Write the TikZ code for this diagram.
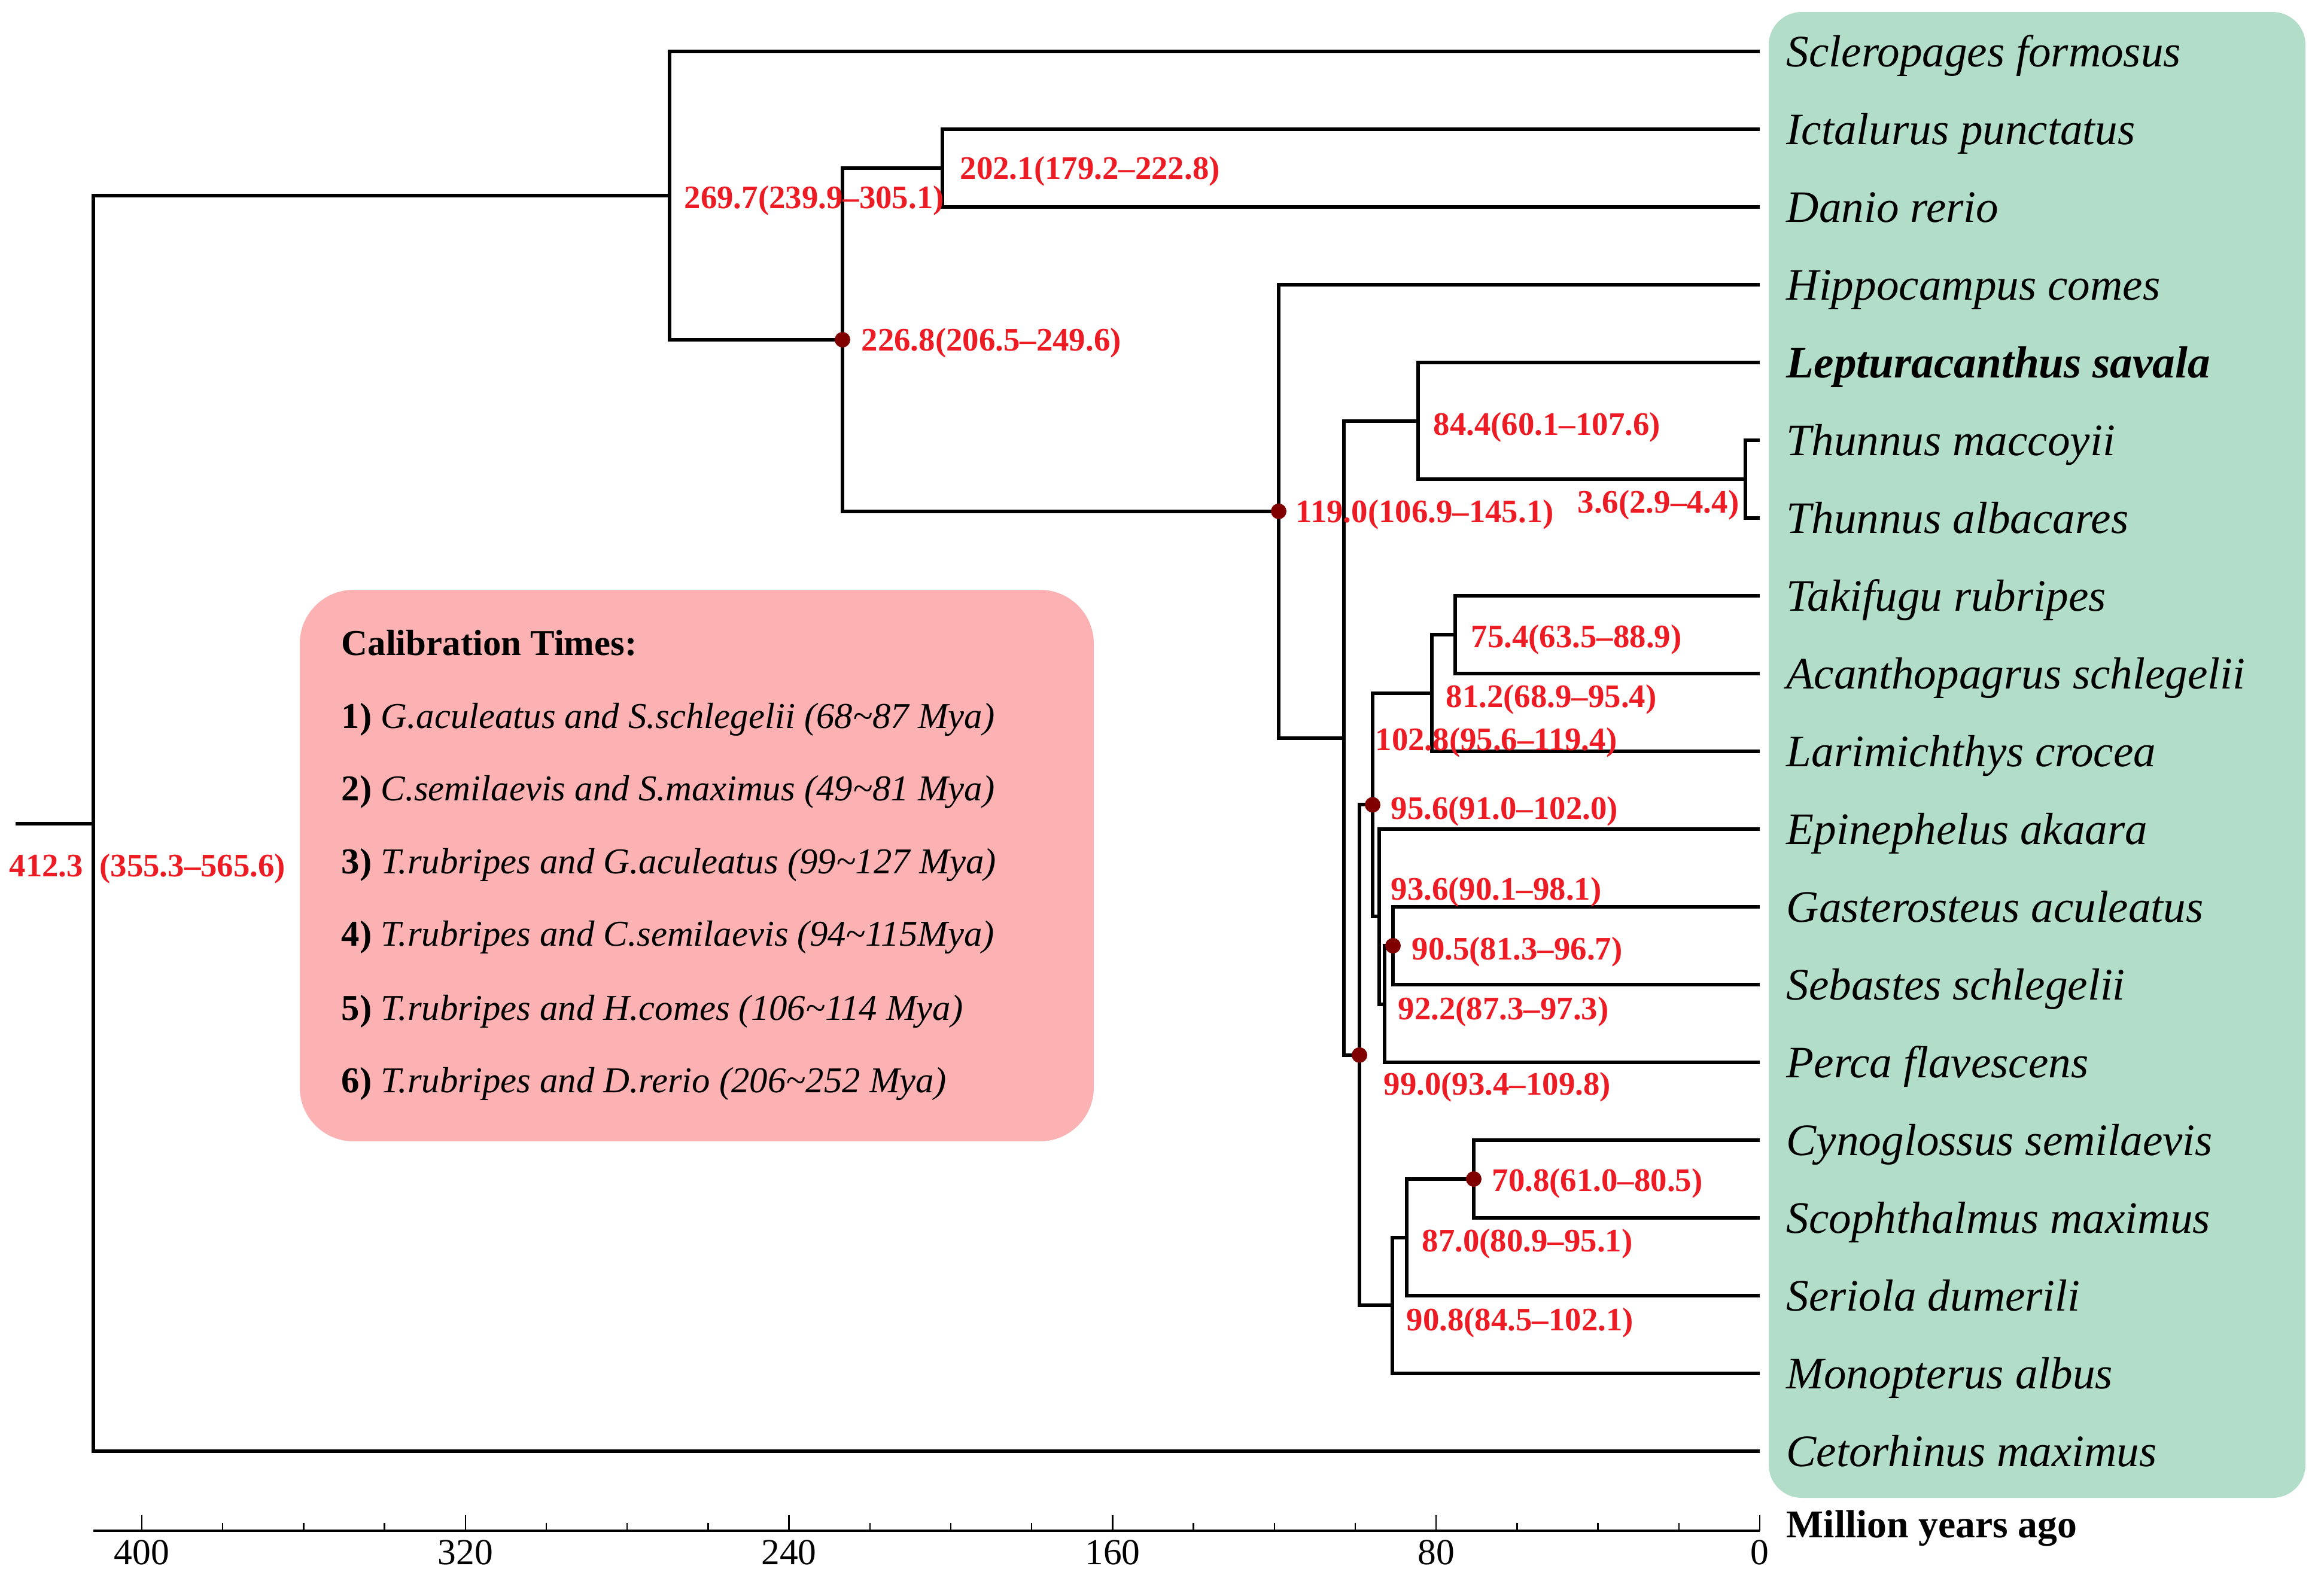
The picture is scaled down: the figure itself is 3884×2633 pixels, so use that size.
\documentclass[tikz,border=0pt]{standalone}
\usepackage{fontspec}
\setmainfont{Liberation Serif}
\usepackage{tikz}

\definecolor{agered}{RGB}{237,28,36}
\definecolor{calired}{RGB}{128,0,0}
\definecolor{taxongreen}{RGB}{178,222,201}
\definecolor{calipink}{RGB}{252,177,178}

\tikzset{
  branch/.style={line width=0.6mm},
  age/.style={text=agered, font=\bfseries\fontsize{15.6}{17}\selectfont, inner sep=0pt, anchor=base west},
  taxon/.style={font=\itshape\fontsize{21.4}{24}\selectfont, inner sep=0pt, anchor=base west},
  calnode/.style={circle, fill=calired, inner sep=0pt, minimum size=2.6mm},
  caltext/.style={font=\fontsize{17.3}{20}\selectfont, inner sep=0pt, anchor=base west},
  ticklabel/.style={font=\fontsize{17.5}{20}\selectfont, inner sep=0pt, anchor=base},
}

\begin{document}
\begin{tikzpicture}[x=0.1mm, y=-0.1mm]
	\useasboundingbox (0,0) rectangle (3884,2633);
	% panels behind the tree
	\fill[taxongreen, rounded corners=5.5mm] (2956,20) rectangle (3853,2504);
	\fill[calipink, rounded corners=9mm] (501,986) rectangle (1828,1908);

	% leaves
	\foreach \i in {0,...,18}
		\coordinate (l\i) at (2941,{86+130*\i});

	% internal nodes
	\coordinate (stem) at (26,1376.5);
	\coordinate (n4123) at (156,1376.5);
	\coordinate (n2697) at (1119,327);
	\coordinate (n2268) at (1408,567.9);
	\coordinate (n2021) at (1575,281);
	\coordinate (n1190) at (2137,854.8);
	\coordinate (n1028) at (2246,1233.6);
	\coordinate (n0844) at (2370,703.5);
	\coordinate (n0036) at (2917,801);
	\coordinate (n0990) at (2272,1763.8);
	\coordinate (n0956) at (2294,1345.4);
	\coordinate (n0812) at (2393,1158.5);
	\coordinate (n0754) at (2432,1061);
	\coordinate (n0936) at (2305,1532.3);
	\coordinate (n0922) at (2314,1678.5);
	\coordinate (n0905) at (2328,1581);
	\coordinate (n0908) at (2327,2182.3);
	\coordinate (n0870) at (2351,2068.5);
	\coordinate (n0708) at (2463,1971);

	% branches
	\draw[branch] (stem) -- (n4123);
	\draw[branch] (n4123) |- (n2697) (n4123) |- (l18);
	\draw[branch] (n2697) |- (l0) (n2697) |- (n2268);
	\draw[branch] (n2268) |- (n2021) (n2268) |- (n1190);
	\draw[branch] (n2021) |- (l1) (n2021) |- (l2);
	\draw[branch] (n1190) |- (l3) (n1190) |- (n1028);
	\draw[branch] (n1028) |- (n0844) (n1028) |- (n0990);
	\draw[branch] (n0844) |- (l4) (n0844) |- (n0036);
	\draw[branch] (n0036) |- (l5) (n0036) |- (l6);
	\draw[branch] (n0990) |- (n0956) (n0990) |- (n0908);
	\draw[branch] (n0956) |- (n0812) (n0956) |- (n0936);
	\draw[branch] (n0812) |- (n0754) (n0812) |- (l9);
	\draw[branch] (n0754) |- (l7) (n0754) |- (l8);
	\draw[branch] (n0936) |- (l10) (n0936) |- (n0922);
	\draw[branch] (n0922) |- (n0905) (n0922) |- (l13);
	\draw[branch] (n0905) |- (l11) (n0905) |- (l12);
	\draw[branch] (n0908) |- (n0870) (n0908) |- (l17);
	\draw[branch] (n0870) |- (n0708) (n0870) |- (l16);
	\draw[branch] (n0708) |- (l14) (n0708) |- (l15);

	% calibrated nodes
	\foreach \c in {n2268,n1190,n0956,n0990,n0905,n0708}
		\node[calnode] (d\c) at (\c) {};

	% node ages
	\node[age] (a4123) at (15,1465) {412.3\hspace{0.5em}(355.3--565.6)};
	\node[age] (a2697) at (1143,348) {269.7(239.9--305.1)};
	\node[age] (a2021) at (1604,299) {202.1(179.2--222.8)};
	\node[age] (a2268) at (1439,586) {226.8(206.5--249.6)};
	\node[age] (a0844) at (2395,727) {84.4(60.1--107.6)};
	\node[age] (a0036) at (2636,857) {3.6(2.9--4.4)};
	\node[age] (a1190) at (2165,873) {119.0(106.9--145.1)};
	\node[age] (a0754) at (2458,1082) {75.4(63.5--88.9)};
	\node[age] (a0812) at (2416,1182) {81.2(68.9--95.4)};
	\node[age] (a1028) at (2298,1254) {102.8(95.6--119.4)};
	\node[age] (a0956) at (2324,1369) {95.6(91.0--102.0)};
	\node[age] (a0936) at (2324,1504) {93.6(90.1--98.1)};
	\node[age] (a0905) at (2359,1604) {90.5(81.3--96.7)};
	\node[age] (a0922) at (2336,1704) {92.2(87.3--97.3)};
	\node[age] (a0990) at (2312,1830) {99.0(93.4--109.8)};
	\node[age] (a0708) at (2493,1991) {70.8(61.0--80.5)};
	\node[age] (a0870) at (2376,2092) {87.0(80.9--95.1)};
	\node[age] (a0908) at (2350,2224) {90.8(84.5--102.1)};

	% species
	\foreach \i/\sp in {0/Scleropages formosus, 1/Ictalurus punctatus, 2/Danio rerio,
		3/Hippocampus comes, 4/{\bfseries Lepturacanthus savala}, 5/Thunnus maccoyii,
		6/Thunnus albacares, 7/Takifugu rubripes, 8/Acanthopagrus schlegelii,
		9/Larimichthys crocea, 10/Epinephelus akaara, 11/Gasterosteus aculeatus,
		12/Sebastes schlegelii, 13/Perca flavescens, 14/Cynoglossus semilaevis,
		15/Scophthalmus maximus, 16/Seriola dumerili, 17/Monopterus albus,
		18/Cetorhinus maximus}
		\node[taxon] (sp\i) at (2985,{111+130*\i}) {\sp};

	% calibration list
	\node[caltext, font=\bfseries\fontsize{17.3}{20}\selectfont] (cal0) at (570,1095) {Calibration Times:};
	\node[caltext] (cal1) at (570,1217) {\textbf{1)} \textit{G.aculeatus and S.schlegelii (68\textasciitilde87 Mya)}};
	\node[caltext] (cal2) at (570,1338) {\textbf{2)} \textit{C.semilaevis and S.maximus (49\textasciitilde81 Mya)}};
	\node[caltext] (cal3) at (570,1460) {\textbf{3)} \textit{T.rubripes and G.aculeatus (99\textasciitilde127 Mya)}};
	\node[caltext] (cal4) at (570,1581) {\textbf{4)} \textit{T.rubripes and C.semilaevis (94\textasciitilde115Mya)}};
	\node[caltext] (cal5) at (570,1705) {\textbf{5)} \textit{T.rubripes and H.comes (106\textasciitilde114 Mya)}};
	\node[caltext] (cal6) at (570,1826) {\textbf{6)} \textit{T.rubripes and D.rerio (206\textasciitilde252 Mya)}};

	% time axis
	\draw[line width=0.34mm] (156,2559) -- (2941,2559);
	\foreach \t in {20,40,...,400}
		\draw[line width=0.25mm] ({2941-6.76*\t},2559) -- ++(0,-13);
	\foreach \t in {0,80,...,400}{
		\draw[line width=0.25mm] ({2941-6.76*\t},2559) -- ++(0,-26);
		\node[ticklabel] (tk\t) at ({2941-6.76*\t},2615) {\t};
	}
	\node[inner sep=0pt, anchor=base west, font=\bfseries\fontsize{18.7}{21}\selectfont] (axtitle) at (2985,2570) {Million years ago};
\end{tikzpicture}
\end{document}
